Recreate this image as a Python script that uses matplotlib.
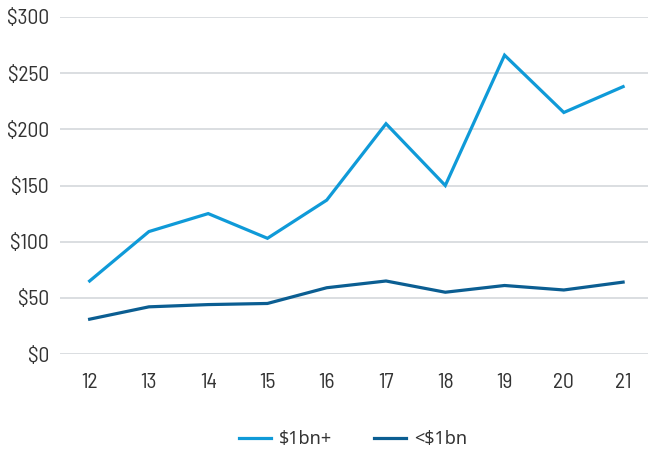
import matplotlib
matplotlib.use("Agg")
import matplotlib.pyplot as plt

years = ["12", "13", "14", "15", "16", "17", "18", "19", "20", "21"]
large_deals = [65, 109, 125, 103, 137, 205, 150, 266, 215, 238]
small_deals = [31, 42, 44, 45, 59, 65, 55, 61, 57, 64]
y_ticks = [0, 50, 100, 150, 200, 250, 300]
y_labels = ["$" + str(v) for v in y_ticks]

tick_font = ["Barlow Semi Condensed", "Roboto Condensed", "DejaVu Sans"]

fig = plt.figure(figsize=(6.48, 4.53), dpi=100)
ax = fig.add_axes([0.0926, 0.2185, 0.9074, 0.744])

x = list(range(len(years)))
ax.plot(x, large_deals, color="#0f9ad8", lw=2.3, label="$1bn+", solid_joinstyle="miter")
ax.plot(x, small_deals, color="#0b5e92", lw=2.3, label="<$1bn", solid_joinstyle="miter")

ax.set_xlim(-0.5, 9.42)
ax.set_ylim(0, 300)
ax.set_yticks(y_ticks)
ax.set_yticklabels(y_labels)
ax.set_xticks(x)
ax.set_xticklabels(years)
ax.grid(axis="y", color="#d4d8dc", lw=1.2)
ax.set_axisbelow(True)
for s in ax.spines.values():
    s.set_visible(False)
ax.tick_params(length=0, labelsize=15.5, labelcolor="#333333", pad=8)
ax.tick_params(axis="x", pad=14)
for lab in ax.get_xticklabels() + ax.get_yticklabels():
    lab.set_family(tick_font)

leg = fig.legend(loc="center", ncol=2, bbox_to_anchor=(0.545, 0.03),
                 frameon=False, handlelength=1.8, handletextpad=0.45,
                 columnspacing=2.3,
                 prop={"family": ["Noto Sans", "DejaVu Sans"], "size": 13})
for t in leg.get_texts():
    t.set_color("#333333")

fig.savefig("out.png", dpi=100)
